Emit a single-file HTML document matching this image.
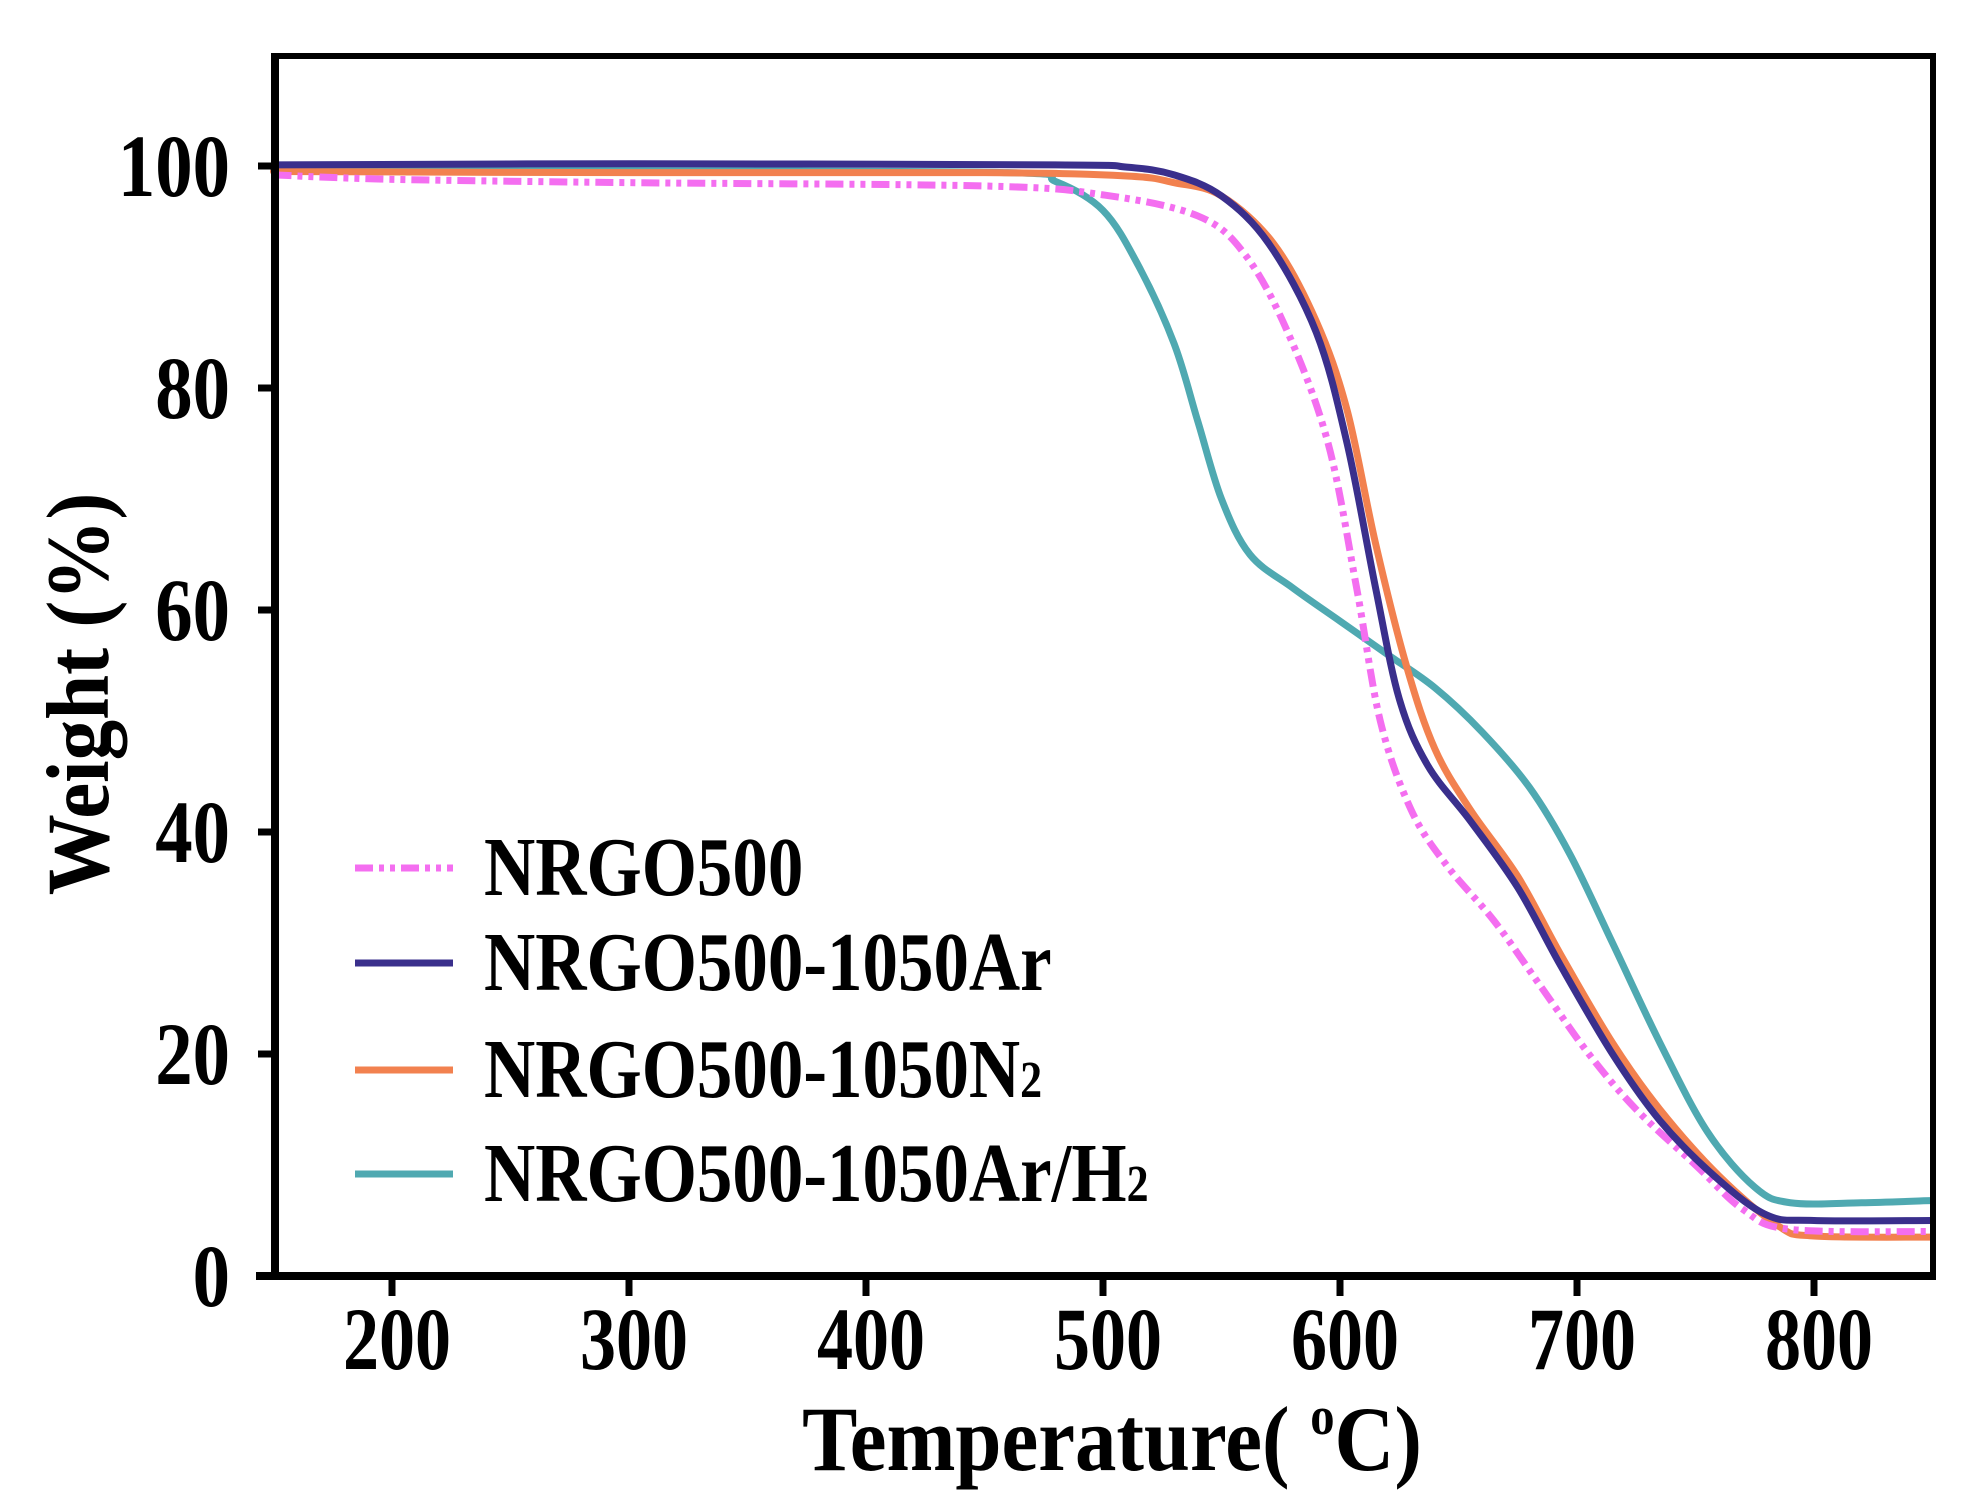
<!DOCTYPE html>
<html><head><meta charset="utf-8"><style>
html,body{margin:0;padding:0;background:#fff;}
svg{display:block;}
text{font-family:"Liberation Serif",serif;font-weight:bold;fill:#000;}
</style></head><body>
<svg id="s" width="1980" height="1504" viewBox="0 0 1980 1504" xmlns="http://www.w3.org/2000/svg">
<g id="curves" fill="none" stroke-linejoin="round" stroke-linecap="round"></g>
<rect x="275" y="56" width="1658" height="1220" fill="none" stroke="#000" stroke-width="6"/>
<line x1="275" y1="53" x2="275" y2="1279" stroke="#000" stroke-width="8"/>
<line x1="256" y1="1276" x2="1936" y2="1276" stroke="#000" stroke-width="8"/>
<g stroke="#000" stroke-width="7">
<line x1="258" y1="166" x2="275" y2="166"/><line x1="258" y1="388" x2="275" y2="388"/>
<line x1="258" y1="610" x2="275" y2="610"/><line x1="258" y1="832" x2="275" y2="832"/>
<line x1="258" y1="1054" x2="275" y2="1054"/>
<line x1="392" y1="1276" x2="392" y2="1296"/><line x1="629" y1="1276" x2="629" y2="1296"/>
<line x1="866" y1="1276" x2="866" y2="1296"/><line x1="1103" y1="1276" x2="1103" y2="1296"/>
<line x1="1340" y1="1276" x2="1340" y2="1296"/><line x1="1577" y1="1276" x2="1577" y2="1296"/>
<line x1="1814" y1="1276" x2="1814" y2="1296"/>
</g>
<g font-size="89" text-anchor="end">
<text transform="translate(230,196) scale(0.84,1)">100</text>
<text transform="translate(230,418) scale(0.84,1)">80</text>
<text transform="translate(230,640) scale(0.84,1)">60</text>
<text transform="translate(230,862) scale(0.84,1)">40</text>
<text transform="translate(230,1084) scale(0.84,1)">20</text>
<text transform="translate(230,1306) scale(0.84,1)">0</text>
</g>
<g font-size="89" text-anchor="middle">
<text transform="translate(397,1369) scale(0.81,1)">200</text>
<text transform="translate(634,1369) scale(0.81,1)">300</text>
<text transform="translate(871,1369) scale(0.81,1)">400</text>
<text transform="translate(1108,1369) scale(0.81,1)">500</text>
<text transform="translate(1345,1369) scale(0.81,1)">600</text>
<text transform="translate(1582,1369) scale(0.81,1)">700</text>
<text transform="translate(1819,1369) scale(0.81,1)">800</text>
</g>
<text transform="translate(1112,1470) scale(0.9,1)" font-size="92" text-anchor="middle">Temperature( <tspan font-size="54" dy="-36">o</tspan><tspan dy="36">C)</tspan></text>
<text transform="translate(108,694) rotate(-90) scale(0.91,1)" font-size="89" text-anchor="middle">Weight (%)</text>
<g stroke-width="7">
<line x1="355" y1="868" x2="453" y2="868" stroke="#f46ef0" stroke-dasharray="18,6,5,6,5,6"/>
<line x1="355" y1="963" x2="453" y2="963" stroke="#3a2f8c"/>
<line x1="355" y1="1070" x2="453" y2="1070" stroke="#f2814f"/>
<line x1="355" y1="1174" x2="453" y2="1174" stroke="#4fa9b1"/>
</g>
<g font-size="84">
<text transform="translate(484,895) scale(0.845,1)">NRGO500</text>
<text transform="translate(484,990) scale(0.845,1)">NRGO500-1050Ar</text>
<text transform="translate(484,1097) scale(0.845,1)">NRGO500-1050N<tspan font-size="52">2</tspan></text>
<text transform="translate(484,1201) scale(0.845,1)">NRGO500-1050Ar/H<tspan font-size="52">2</tspan></text>
</g>
</svg>
<script>
function X(t){return 392+(t-200)*2.37;}
function Y(w){return 1276-w*11.1;}
var series=[
{c:"#4fa9b1",d:"",p:[[150,99.7],[300,99.6],[460,99.4],[480,98.6],[500,96],[515,91],[530,84],[540,77],[550,70],[562,65],[580,62],[600,59],[620,56],[640,53],[660,49],[680,44],[697,38],[715,30],[735,21],[755,13],[775,8],[790,6.6],[820,6.6],[850,6.8]]},
{c:"#f2814f",d:"",p:[[150,99.5],[300,99.4],[450,99.4],[510,99.1],[530,98.5],[550,97.3],[572,93],[590,86],[603,78],[615,66],[628,55],[640,47.5],[655,42],[675,36],[693,29],[715,21],[735,15],[760,9],[785,4.5],[800,3.6],[850,3.5]]},
{c:"#f46ef0",d:"18,6,5,6,5,6",p:[[150,99.2],[200,98.8],[300,98.5],[450,98.2],[500,97.4],[540,95.5],[560,92],[578,85],[595,75],[607,62],[617,50],[630,42],[645,37],[665,32],[685,26],[705,20],[725,15],[750,10],[770,6],[790,4.2],[850,4]]},
{c:"#3a2f8c",d:"",p:[[150,100.1],[300,100.2],[480,100.1],[510,99.9],[530,99.2],[550,97.3],[570,93],[590,85],[603,75],[615,62],[625,52],[637,46],[655,41],[675,35],[693,28],[715,20],[735,14],[758,9],[780,5.5],[800,5],[850,5]]}
];
var g=document.getElementById("curves"),ns="http://www.w3.org/2000/svg";
series.forEach(function(s){
var P=s.p.map(function(q){return [X(q[0]),Y(q[1])];});
var d="M"+P[0][0]+","+P[0][1];
for(var i=0;i<P.length-1;i++){
var p0=P[i-1]||P[i],p1=P[i],p2=P[i+1],p3=P[i+2]||P[i+1];
var c1=[p1[0]+(p2[0]-p0[0])/6,p1[1]+(p2[1]-p0[1])/6],c2=[p2[0]-(p3[0]-p1[0])/6,p2[1]-(p3[1]-p1[1])/6];
d+=" C"+c1+" "+c2+" "+p2;}
var e=document.createElementNS(ns,"path");
e.setAttribute("d",d);e.setAttribute("stroke",s.c);e.setAttribute("stroke-width","7");
if(s.d){e.setAttribute("stroke-dasharray",s.d);e.setAttribute("stroke-linecap","butt");}
g.appendChild(e);});
</script>
</body></html>
